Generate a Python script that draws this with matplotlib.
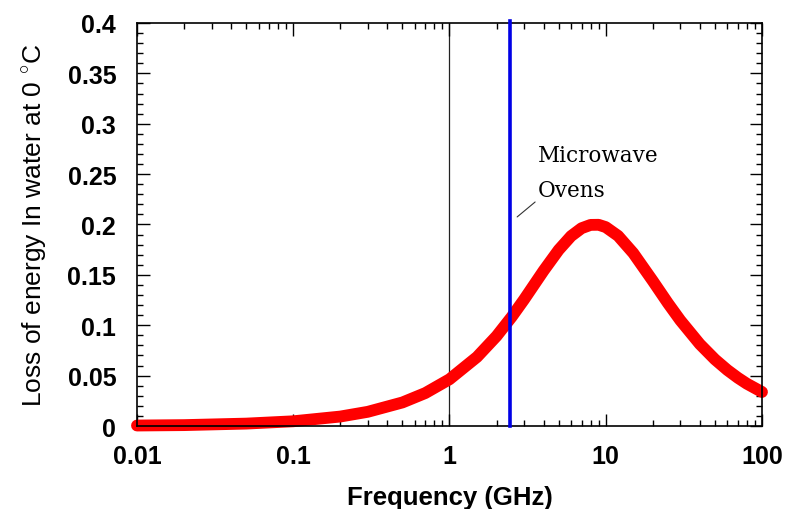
import matplotlib
matplotlib.use("Agg")
import matplotlib.pyplot as plt
from matplotlib.ticker import FixedLocator, MultipleLocator, LogLocator, NullFormatter

# dielectric loss of water at 0 C
freq_ghz = [0.01, 0.02, 0.05, 0.1, 0.2, 0.3, 0.5, 0.7, 1, 1.5, 2, 2.5, 3, 4, 5, 6,
            7, 8, 9, 10, 12, 15, 20, 25, 30, 40, 50, 60, 70, 80, 100]
loss = [0.0005, 0.0009, 0.0024, 0.0047, 0.0094, 0.0141, 0.0234, 0.0327, 0.0464,
        0.0685, 0.0892, 0.1083, 0.1255, 0.1541, 0.1748, 0.1885, 0.1963, 0.1996,
        0.1997, 0.1974, 0.1887, 0.1716, 0.1440, 0.1219, 0.1049, 0.0813, 0.0661,
        0.0556, 0.0479, 0.0420, 0.0338]

ref_line = 1.0         # thin black marker
oven_freq = 2.45       # microwave oven frequency
x_ticks = [0.01, 0.1, 1, 10, 100]
x_ticklabels = ["0.01", "0.1", "1", "10", "100"]
y_ticks = [0, 0.05, 0.1, 0.15, 0.2, 0.25, 0.3, 0.35, 0.4]
y_ticklabels = ["0", "0.05", "0.1", "0.15", "0.2", "0.25", "0.3", "0.35", "0.4"]

plt.rcParams['font.family'] = ['Liberation Sans', 'DejaVu Sans']
plt.rcParams['mathtext.fontset'] = 'custom'
plt.rcParams['mathtext.rm'] = 'Liberation Sans'

fig = plt.figure(figsize=(7.85, 5.10), dpi=100)
ax = fig.add_axes([0.1745, 0.1627, 0.7962, 0.7903])

ax.axvline(ref_line, color='#222222', lw=0.9, zorder=1)
ax.plot(freq_ghz, loss, color='#ff0000', lw=8.5, solid_capstyle='round',
        solid_joinstyle='round', clip_on=False, zorder=2)
ax.axvline(oven_freq, ymin=0, ymax=1.005, color='#0000e6', lw=2.6,
           clip_on=False, zorder=3)

ax.text(3.68, 0.263, "Microwave", fontsize=15.5, family='DejaVu Serif',
        va='baseline', ha='left')
ax.annotate("Ovens", xy=(2.71, 0.2075), xytext=(3.68, 0.228),
            fontsize=15.5, family='DejaVu Serif', va='baseline', ha='left',
            arrowprops=dict(arrowstyle='-', color='#333333', lw=0.8,
                            shrinkA=0, shrinkB=0, relpos=(0.03, 0.15)))

ax.set_xscale('log')
ax.set_xlim(0.01, 100)
ax.set_ylim(0, 0.4)

ax.xaxis.set_major_locator(FixedLocator(x_ticks))
ax.set_xticklabels(x_ticklabels)
ax.xaxis.set_minor_locator(LogLocator(base=10, subs=range(2, 10), numticks=20))
ax.xaxis.set_minor_formatter(NullFormatter())
ax.yaxis.set_major_locator(FixedLocator(y_ticks))
ax.set_yticklabels(y_ticklabels)
ax.yaxis.set_minor_locator(MultipleLocator(0.01))

ax.tick_params(which='both', direction='in', top=True, right=True, width=1.0)
ax.tick_params(which='major', length=9, labelsize=18)
ax.tick_params(axis='x', which='major', pad=13)
ax.tick_params(axis='y', which='major', pad=15)
ax.tick_params(which='minor', length=4)
for lab in ax.get_xticklabels() + ax.get_yticklabels():
    lab.set_fontweight('bold')

for sp in ax.spines.values():
    sp.set_linewidth(1.2)

ax.set_xlabel("Frequency (GHz)", fontsize=18.5, fontweight='bold', labelpad=12)
ax.set_ylabel(r"Loss of energy In water at 0 $^{\circ}$C", fontsize=19, labelpad=13)

fig.savefig("out.png", dpi=100)
